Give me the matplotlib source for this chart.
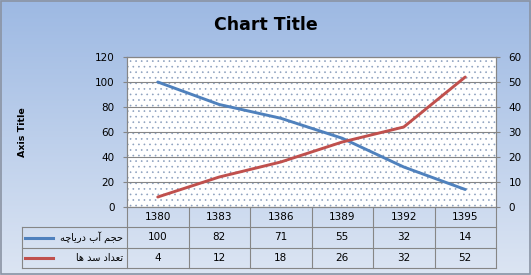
import matplotlib
matplotlib.use("Agg")
import matplotlib.pyplot as plt
import numpy as np
from matplotlib.colors import LinearSegmentedColormap
from matplotlib.patches import Rectangle

plt.rcParams["hatch.linewidth"] = 0.45

# ---- data ----
years = ["1380", "1383", "1386", "1389", "1392", "1395"]
lake_volume = [100, 82, 71, 55, 32, 14]   # left axis
dam_count = [4, 12, 18, 26, 32, 52]       # right axis
series_names = ["حجم آب دریاچه", "تعداد سد ها"]
title = "Chart Title"
axis_title = "Axis Title"

BLUE, RED = "#4F81BD", "#C0504D"
GRID = "#868686"

# minimal Arabic/Persian shaping (matplotlib has no text shaper)
FORMS = {  # isolated, final, initial, medial
    'ا': ('\uFE8D', '\uFE8E', None, None),
    'آ': ('\uFE81', '\uFE82', None, None),
    'ب': ('\uFE8F', '\uFE90', '\uFE91', '\uFE92'),
    'ت': ('\uFE95', '\uFE96', '\uFE97', '\uFE98'),
    'ج': ('\uFE9D', '\uFE9E', '\uFE9F', '\uFEA0'),
    'چ': ('\uFB7A', '\uFB7B', '\uFB7C', '\uFB7D'),
    'ح': ('\uFEA1', '\uFEA2', '\uFEA3', '\uFEA4'),
    'د': ('\uFEA9', '\uFEAA', None, None),
    'ر': ('\uFEAD', '\uFEAE', None, None),
    'س': ('\uFEB1', '\uFEB2', '\uFEB3', '\uFEB4'),
    'ع': ('\uFEC9', '\uFECA', '\uFECB', '\uFECC'),
    'م': ('\uFEE1', '\uFEE2', '\uFEE3', '\uFEE4'),
    'ه': ('\uFEE9', '\uFEEA', '\uFEEB', '\uFEEC'),
    'ی': ('\uFBFC', '\uFBFD', '\uFBFE', '\uFBFF'),
}


def shape(s):
    out = []
    for i, c in enumerate(s):
        if c not in FORMS:
            out.append(c); continue
        prev = s[i-1] if i > 0 else ''
        nxt = s[i+1] if i < len(s) - 1 else ''
        jp = prev in FORMS and FORMS[prev][2] is not None
        jn = nxt in FORMS and FORMS[c][2] is not None
        iso, fin, ini, med = FORMS[c]
        out.append(med if jp and jn else fin if jp else ini if jn else iso)
    return "".join(out[::-1])


W, H = 531, 275
fig = plt.figure(figsize=(W/100, H/100), dpi=100)

# background gradient + frame
bg = fig.add_axes([0, 0, 1, 1], zorder=-10)
cmap = LinearSegmentedColormap.from_list("bg", ["#9DB9E3", "#DCE5F3"])
bg.imshow(np.linspace(0, 1, 256).reshape(-1, 1), aspect="auto", cmap=cmap,
          extent=[0, 1, 0, 1], origin="upper")
bg.add_patch(Rectangle((0.001, 0.002), 0.997, 0.995, fill=False,
                       edgecolor="#8A93A3", linewidth=1.2, transform=bg.transAxes))
bg.axis("off")

def fx(px): return px / W
def fy(py): return 1 - py / H

L, R, T, B = 127, 496, 57, 207
ax = fig.add_axes([fx(L), fy(B), fx(R) - fx(L), fy(T) - fy(B)])
ax.set_facecolor("white")
ax.add_patch(Rectangle((0, 0), 1, 1, transform=ax.transAxes, facecolor="white",
                       edgecolor="#8CA0BE", hatch="...", linewidth=0, zorder=0))
x = np.arange(len(years))
ax.set_xlim(-0.5, len(years) - 0.5)
ax.set_ylim(0, 120)
ax.set_yticks(range(0, 121, 20))
ax.set_xticks([])
ax.yaxis.grid(True, color=GRID, linewidth=0.8)
ax.set_axisbelow(True)
ax.plot(x, lake_volume, color=BLUE, linewidth=2.1, solid_capstyle="round", zorder=4)
for sp in ax.spines.values():
    sp.set_color(GRID); sp.set_linewidth(0.8)
ax.tick_params(axis="y", direction="out", length=3, color=GRID, pad=6,
               labelsize=7.5, labelcolor="#000000")
ax.set_ylabel(axis_title, fontsize=6.8, fontweight="bold")
ax.yaxis.set_label_coords((27 - L) / (R - L), (B - 132) / (B - T))

ax2 = ax.twinx()
ax2.set_ylim(0, 60)
ax2.set_yticks(range(0, 61, 10))
ax2.plot(x, dam_count, color=RED, linewidth=2.1, solid_capstyle="round", zorder=4)
for sp in ax2.spines.values():
    sp.set_color(GRID); sp.set_linewidth(0.8)
ax2.tick_params(axis="y", direction="out", length=3, color=GRID, pad=6,
                labelsize=7.5, labelcolor="#000000")

fig.text(0.5, fy(25), title, ha="center", va="center", fontsize=12.5,
         fontweight="bold", color="#000000")

# data table below the plot
TB = 268
tax = fig.add_axes([fx(L), fy(TB), fx(R) - fx(L), fy(B) - fy(TB)])
tax.set_xlim(-0.5, len(years) - 0.5)
tax.set_ylim(0, 3)
tax.axis("off")
unit = (R - L) / len(years)
def tx(px): return (px - L) / unit - 0.5
leg_left = tx(22)
lk = dict(color=GRID, linewidth=0.8, clip_on=False)
for yy in (0, 1, 2):
    tax.plot([leg_left, len(years) - 0.5], [yy, yy], **lk)
for xx in np.arange(-0.5, len(years), 1.0):
    tax.plot([xx, xx], [0, 3], **lk)
tax.plot([leg_left, leg_left], [0, 2], **lk)

for i, yr in enumerate(years):
    tax.text(i, 2.5, yr, ha="center", va="center", fontsize=7.5)
rows = [(lake_volume, BLUE, 1.5), (dam_count, RED, 0.5)]
for (vals, col, yc), name in zip(rows, series_names):
    for i, v in enumerate(vals):
        tax.text(i, yc, str(v), ha="center", va="center", fontsize=7.5)
    tax.plot([tx(25), tx(53)], [yc, yc], color=col, linewidth=2.2, clip_on=False)
    tax.text(tx(123), yc, shape(name), ha="right", va="center", fontsize=7,
             family=["DejaVu Sans"], clip_on=False)

fig.savefig("out.png", dpi=100)
